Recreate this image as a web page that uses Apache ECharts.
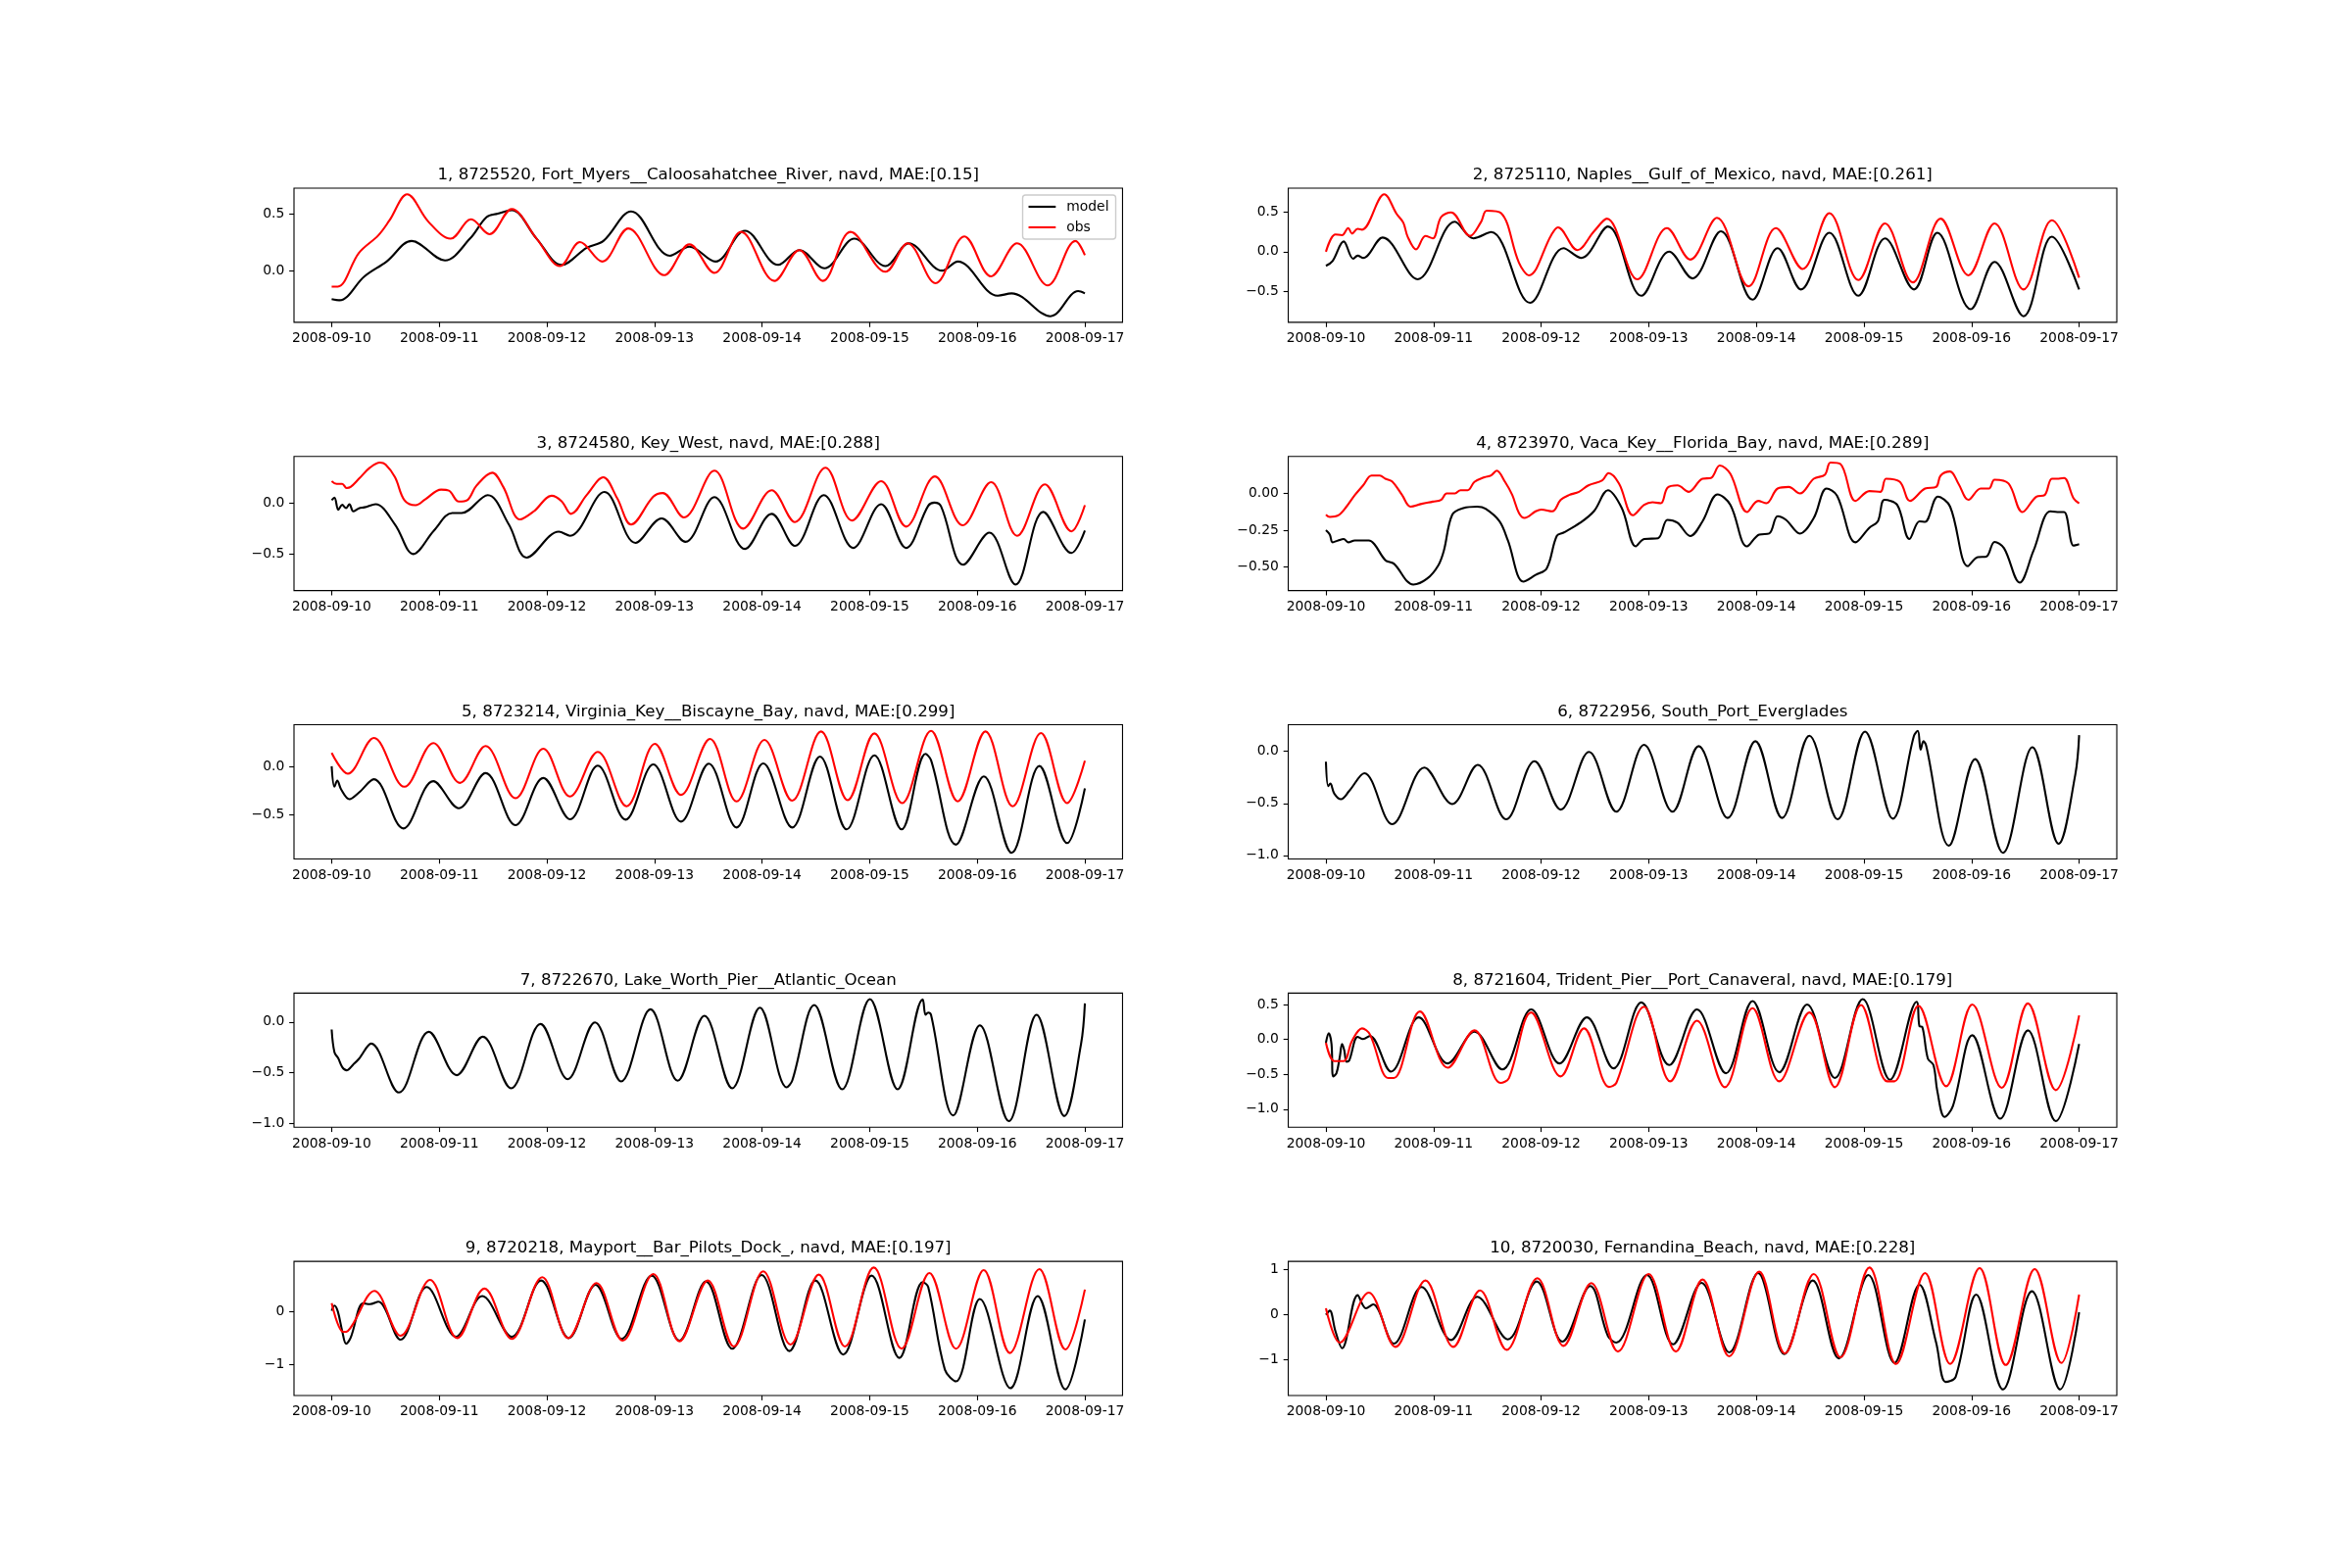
<!DOCTYPE html>
<html><head><meta charset="utf-8">
<script src="https://cdn.jsdelivr.net/npm/echarts@6/dist/echarts.min.js"></script>
<style>html,body{margin:0;padding:0;background:#fff}#chart{width:2400px;height:1600px}</style>
</head><body><div id="chart"></div>
<script>
// ---------- data (time in days since 2008-09-10 00:00) ----------
const xTickValues = [0, 1, 2, 3, 4, 5, 6, 7];
const xTickLabels = ['2008-09-10','2008-09-11','2008-09-12','2008-09-13','2008-09-14','2008-09-15','2008-09-16','2008-09-17'];

const titles = [
  '1, 8725520, Fort_Myers__Caloosahatchee_River, navd, MAE:[0.15]',
  '2, 8725110, Naples__Gulf_of_Mexico, navd, MAE:[0.261]',
  '3, 8724580, Key_West, navd, MAE:[0.288]',
  '4, 8723970, Vaca_Key__Florida_Bay, navd, MAE:[0.289]',
  '5, 8723214, Virginia_Key__Biscayne_Bay, navd, MAE:[0.299]',
  '6, 8722956, South_Port_Everglades',
  '7, 8722670, Lake_Worth_Pier__Atlantic_Ocean',
  '8, 8721604, Trident_Pier__Port_Canaveral, navd, MAE:[0.179]',
  '9, 8720218, Mayport__Bar_Pilots_Dock_, navd, MAE:[0.197]',
  '10, 8720030, Fernandina_Beach, navd, MAE:[0.228]'
];

const yTickValues = [
  [0, 0.5], [-0.5, 0, 0.5], [-0.5, 0], [-0.5, -0.25, 0], [-0.5, 0],
  [-1, -0.5, 0], [-1, -0.5, 0], [-1, -0.5, 0, 0.5], [-1, 0], [-1, 0, 1]
];
const yTickLabels = [
  ['0.0','0.5'], ['\u22120.5','0.0','0.5'], ['\u22120.5','0.0'], ['\u22120.50','\u22120.25','0.00'], ['\u22120.5','0.0'],
  ['\u22121.0','\u22120.5','0.0'], ['\u22121.0','\u22120.5','0.0'], ['\u22121.0','\u22120.5','0.0','0.5'], ['\u22121','0'], ['\u22121','0','1']
];

const model1 = [[0,-0.25],[0.072,-0.26],[0.305,-0.05],[0.511,0.08],[0.743,0.26],[1.053,0.09],[1.285,0.28],[1.44,0.47],[1.544,0.5],[1.673,0.53],[1.905,0.28],[2.137,0.05],[2.37,0.2],[2.525,0.26],[2.783,0.52],[3.144,0.13],[3.325,0.21],[3.567,0.08],[3.841,0.35],[4.15,0.05],[4.347,0.18],[4.579,0.02],[4.858,0.28],[5.147,0.04],[5.364,0.24],[5.674,0.0],[5.819,0.08],[6.19,-0.22],[6.319,-0.2],[6.68,-0.4],[6.938,-0.18],[7,-0.2]];
const obs1 = [[0,-0.14],[0.057,-0.14],[0.253,0.155],[0.434,0.31],[0.537,0.44],[0.702,0.67],[0.898,0.43],[1.105,0.28],[1.296,0.45],[1.466,0.32],[1.673,0.54],[1.905,0.28],[2.122,0.04],[2.308,0.25],[2.514,0.08],[2.757,0.37],[3.092,-0.04],[3.325,0.23],[3.557,-0.02],[3.805,0.34],[4.114,-0.09],[4.347,0.18],[4.564,-0.09],[4.822,0.34],[5.147,-0.01],[5.353,0.24],[5.611,-0.11],[5.88,0.3],[6.128,-0.05],[6.37,0.24],[6.654,-0.13],[6.912,0.26],[7,0.135]];

const model2 = [[0,-0.18],[0.062,-0.12],[0.165,0.13],[0.253,-0.09],[0.295,-0.05],[0.346,-0.08],[0.527,0.18],[0.853,-0.35],[1.199,0.38],[1.37,0.17],[1.535,0.25],[1.897,-0.65],[2.208,0.045],[2.373,-0.08],[2.621,0.32],[2.931,-0.56],[3.19,0.0],[3.407,-0.34],[3.671,0.26],[3.965,-0.61],[4.198,0.045],[4.415,-0.48],[4.679,0.24],[4.948,-0.56],[5.196,0.17],[5.465,-0.48],[5.682,0.24],[5.992,-0.73],[6.214,-0.13],[6.483,-0.82],[6.747,0.19],[7,-0.48]];
const obs2 = [[0,0.0],[0.088,0.22],[0.15,0.21],[0.207,0.3],[0.243,0.23],[0.295,0.29],[0.336,0.28],[0.543,0.73],[0.657,0.48],[0.719,0.37],[0.76,0.19],[0.838,0.03],[0.925,0.2],[0.993,0.17],[1.07,0.44],[1.163,0.5],[1.339,0.2],[1.442,0.38],[1.494,0.52],[1.628,0.49],[1.794,-0.14],[1.887,-0.3],[2.094,0.21],[2.156,0.31],[2.337,0.02],[2.492,0.26],[2.611,0.42],[2.895,-0.35],[3.169,0.3],[3.386,-0.1],[3.634,0.43],[3.929,-0.44],[4.182,0.3],[4.431,-0.22],[4.679,0.49],[4.948,-0.36],[5.196,0.36],[5.454,-0.39],[5.713,0.42],[5.971,-0.3],[6.214,0.36],[6.483,-0.48],[6.747,0.4],[7,-0.33]];

const model3 = [[0,0.03],[0.026,0.054],[0.062,-0.064],[0.098,-0.016],[0.134,-0.048],[0.165,-0.01],[0.201,-0.08],[0.253,-0.05],[0.305,-0.04],[0.408,-0.01],[0.589,-0.21],[0.759,-0.5],[0.95,-0.27],[1.12,-0.096],[1.208,-0.096],[1.451,0.08],[1.647,-0.21],[1.812,-0.535],[2.111,-0.28],[2.215,-0.32],[2.535,0.11],[2.824,-0.39],[3.066,-0.15],[3.288,-0.38],[3.557,0.06],[3.841,-0.45],[4.089,-0.105],[4.305,-0.42],[4.574,0.08],[4.847,-0.44],[5.106,-0.01],[5.338,-0.44],[5.544,-0.025],[5.601,0.006],[5.663,-0.03],[5.87,-0.605],[6.112,-0.29],[6.355,-0.8],[6.613,-0.086],[6.876,-0.49],[7,-0.27]];
const obs3 = [[0,0.217],[0.046,0.19],[0.098,0.19],[0.139,0.15],[0.176,0.16],[0.253,0.24],[0.356,0.35],[0.449,0.4],[0.501,0.38],[0.589,0.255],[0.676,0.03],[0.78,-0.02],[0.872,0.04],[1.017,0.134],[1.089,0.124],[1.182,0.016],[1.26,0.03],[1.347,0.175],[1.492,0.3],[1.595,0.16],[1.75,-0.16],[1.879,-0.08],[2.044,0.073],[2.137,0.02],[2.225,-0.105],[2.37,0.08],[2.524,0.255],[2.653,0.05],[2.783,-0.21],[2.989,0.064],[3.077,0.1],[3.273,-0.14],[3.557,0.32],[3.825,-0.25],[4.089,0.127],[4.305,-0.185],[4.589,0.35],[4.837,-0.17],[5.106,0.217],[5.338,-0.23],[5.606,0.264],[5.864,-0.217],[6.128,0.207],[6.37,-0.32],[6.628,0.185],[6.876,-0.277],[7,-0.02]];

const model4 = [[0,-0.25],[0.036,-0.28],[0.062,-0.333],[0.114,-0.32],[0.165,-0.31],[0.207,-0.333],[0.269,-0.32],[0.398,-0.32],[0.45,-0.345],[0.553,-0.455],[0.631,-0.478],[0.812,-0.62],[0.941,-0.58],[1.044,-0.49],[1.096,-0.39],[1.174,-0.145],[1.277,-0.1],[1.406,-0.09],[1.484,-0.105],[1.613,-0.19],[1.691,-0.32],[1.835,-0.6],[1.949,-0.555],[2.052,-0.51],[2.145,-0.29],[2.208,-0.267],[2.363,-0.2],[2.492,-0.12],[2.621,0.022],[2.75,-0.1],[2.88,-0.36],[2.958,-0.31],[3.087,-0.305],[3.174,-0.18],[3.267,-0.2],[3.386,-0.29],[3.5,-0.19],[3.64,-0.007],[3.759,-0.078],[3.914,-0.36],[4.027,-0.28],[4.12,-0.273],[4.198,-0.155],[4.276,-0.18],[4.405,-0.273],[4.534,-0.167],[4.653,0.033],[4.751,-0.016],[4.922,-0.333],[5.051,-0.233],[5.129,-0.19],[5.191,-0.044],[5.309,-0.078],[5.423,-0.31],[5.516,-0.19],[5.568,-0.193],[5.687,-0.022],[5.801,-0.09],[5.966,-0.495],[6.059,-0.433],[6.137,-0.43],[6.214,-0.33],[6.302,-0.373],[6.447,-0.607],[6.576,-0.39],[6.731,-0.122],[6.798,-0.127],[6.86,-0.127],[6.948,-0.355],[7,-0.345]];
const obs4 = [[0,-0.145],[0.036,-0.16],[0.114,-0.15],[0.191,-0.09],[0.269,-0.011],[0.346,0.055],[0.424,0.122],[0.501,0.122],[0.553,0.1],[0.615,0.082],[0.708,-0.011],[0.786,-0.09],[0.889,-0.071],[0.993,-0.056],[1.07,-0.044],[1.122,0.0],[1.199,0.0],[1.251,0.022],[1.318,0.022],[1.38,0.078],[1.473,0.11],[1.535,0.122],[1.587,0.155],[1.665,0.078],[1.732,-0.011],[1.794,-0.133],[1.846,-0.167],[1.949,-0.122],[2.001,-0.11],[2.104,-0.122],[2.182,-0.044],[2.259,-0.011],[2.352,0.011],[2.44,0.055],[2.569,0.089],[2.626,0.138],[2.724,0.067],[2.854,-0.149],[2.958,-0.078],[3.035,-0.06],[3.113,-0.067],[3.174,0.038],[3.267,0.055],[3.371,0.011],[3.5,0.1],[3.578,0.105],[3.66,0.19],[3.759,0.133],[3.914,-0.127],[4.017,-0.051],[4.094,-0.067],[4.198,0.033],[4.301,0.044],[4.405,0.0],[4.534,0.1],[4.637,0.127],[4.689,0.21],[4.782,0.2],[4.922,-0.051],[5.051,0.016],[5.154,0.011],[5.206,0.1],[5.335,0.078],[5.428,-0.051],[5.568,0.033],[5.671,0.044],[5.713,0.122],[5.801,0.149],[5.878,0.067],[5.971,-0.044],[6.085,0.033],[6.162,0.033],[6.214,0.093],[6.344,0.067],[6.473,-0.127],[6.602,-0.022],[6.68,-0.011],[6.747,0.1],[6.809,0.1],[6.86,0.105],[6.948,-0.033],[7,-0.067]];

const model5 = [[0,0.0],[0.026,-0.21],[0.052,-0.147],[0.088,-0.237],[0.165,-0.337],[0.253,-0.27],[0.392,-0.133],[0.666,-0.637],[0.945,-0.153],[1.182,-0.43],[1.43,-0.07],[1.709,-0.603],[1.967,-0.12],[2.215,-0.543],[2.473,0.007],[2.731,-0.547],[2.989,0.02],[3.247,-0.567],[3.505,0.027],[3.763,-0.627],[4.011,0.03],[4.28,-0.627],[4.538,0.1],[4.786,-0.647],[5.044,0.113],[5.297,-0.647],[5.519,0.127],[5.57,0.063],[5.802,-0.803],[6.061,-0.103],[6.319,-0.887],[6.577,0.003],[6.835,-0.787],[7,-0.227]];
const obs5 = [[0,0.137],[0.15,-0.077],[0.392,0.29],[0.676,-0.21],[0.945,0.237],[1.193,-0.17],[1.43,0.207],[1.709,-0.327],[1.967,0.18],[2.215,-0.31],[2.473,0.147],[2.741,-0.41],[3.004,0.23],[3.247,-0.293],[3.516,0.28],[3.763,-0.36],[4.022,0.27],[4.28,-0.353],[4.548,0.357],[4.796,-0.347],[5.044,0.337],[5.302,-0.377],[5.57,0.363],[5.818,-0.36],[6.076,0.357],[6.329,-0.41],[6.592,0.34],[6.835,-0.377],[7,0.057]];

const model6 = [[0,-0.1],[0.021,-0.334],[0.041,-0.31],[0.078,-0.406],[0.14,-0.46],[0.217,-0.38],[0.357,-0.21],[0.615,-0.7],[0.915,-0.156],[1.174,-0.506],[1.411,-0.13],[1.675,-0.653],[1.939,-0.094],[2.182,-0.56],[2.445,-0.006],[2.699,-0.58],[2.957,0.063],[3.221,-0.58],[3.464,0.05],[3.733,-0.64],[3.991,0.097],[4.239,-0.64],[4.493,0.15],[4.756,-0.653],[5.01,0.19],[5.268,-0.647],[5.465,0.15],[5.501,0.197],[5.527,0.016],[5.553,0.097],[5.578,0.056],[5.79,-0.906],[6.033,-0.075],[6.292,-0.975],[6.566,0.04],[6.809,-0.888],[6.964,-0.225],[7,0.156]];

const model7 = [[0,-0.074],[0.026,-0.3],[0.062,-0.36],[0.098,-0.445],[0.139,-0.477],[0.201,-0.42],[0.253,-0.365],[0.367,-0.213],[0.625,-0.697],[0.903,-0.097],[1.162,-0.526],[1.404,-0.145],[1.667,-0.655],[1.941,-0.019],[2.194,-0.565],[2.447,-0.003],[2.69,-0.587],[2.963,0.126],[3.216,-0.58],[3.464,0.061],[3.722,-0.655],[3.98,0.142],[4.228,-0.645],[4.28,-0.58],[4.486,0.168],[4.744,-0.665],[5.002,0.226],[5.26,-0.665],[5.493,0.223],[5.519,0.071],[5.544,0.094],[5.57,0.071],[5.777,-0.923],[6.024,-0.032],[6.293,-0.98],[6.551,0.071],[6.809,-0.929],[6.964,-0.219],[7,0.184]];

const model8 = [[0,-0.047],[0.026,0.088],[0.052,-0.065],[0.067,-0.53],[0.098,-0.484],[0.129,-0.25],[0.15,-0.065],[0.171,-0.158],[0.191,-0.32],[0.217,-0.3],[0.295,0.037],[0.346,0.005],[0.408,0.05],[0.605,-0.46],[0.863,0.316],[1.132,-0.344],[1.38,0.11],[1.639,-0.43],[1.908,0.43],[2.171,-0.344],[2.425,0.316],[2.673,-0.414],[2.931,0.53],[3.19,-0.367],[3.448,0.43],[3.717,-0.484],[3.965,0.55],[4.213,-0.47],[4.472,0.5],[4.73,-0.553],[4.989,0.577],[5.242,-0.577],[5.49,0.54],[5.516,0.19],[5.542,0.18],[5.594,-0.274],[5.646,-0.367],[5.682,-0.74],[5.749,-1.11],[5.826,-0.958],[6.007,0.06],[6.266,-1.135],[6.524,0.13],[6.783,-1.17],[7,-0.065]];
const obs8 = [[0,-0.047],[0.078,-0.31],[0.165,-0.31],[0.243,-0.019],[0.336,0.158],[0.408,0.074],[0.579,-0.553],[0.631,-0.553],[0.874,0.4],[1.132,-0.405],[1.38,0.13],[1.623,-0.623],[1.701,-0.553],[1.908,0.386],[2.182,-0.53],[2.399,0.158],[2.631,-0.68],[2.699,-0.623],[2.957,0.47],[3.2,-0.6],[3.448,0.27],[3.707,-0.684],[3.965,0.447],[4.213,-0.6],[4.493,0.386],[4.73,-0.684],[4.973,0.493],[5.216,-0.6],[5.284,-0.6],[5.506,0.484],[5.764,-0.67],[6.007,0.5],[6.281,-0.693],[6.524,0.516],[6.783,-0.726],[7,0.344]];

const model9 = [[0,0.012],[0.026,0.11],[0.057,0.0],[0.098,-0.37],[0.134,-0.61],[0.176,-0.5],[0.294,0.153],[0.356,0.135],[0.434,0.184],[0.64,-0.534],[0.883,0.46],[1.156,-0.48],[1.399,0.288],[1.673,-0.48],[1.946,0.583],[2.204,-0.503],[2.452,0.503],[2.695,-0.52],[2.974,0.675],[3.232,-0.552],[3.479,0.564],[3.722,-0.705],[3.996,0.687],[4.254,-0.748],[4.496,0.583],[4.754,-0.816],[5.018,0.675],[5.276,-0.877],[5.493,0.552],[5.544,0.46],[5.699,-1.1],[5.802,-1.32],[6.024,0.233],[6.308,-1.448],[6.561,0.288],[6.819,-1.472],[7,-0.153]];
const obs9 = [[0,0.153],[0.108,-0.387],[0.15,-0.37],[0.398,0.387],[0.64,-0.46],[0.914,0.595],[1.167,-0.503],[1.42,0.43],[1.673,-0.52],[1.957,0.644],[2.199,-0.503],[2.462,0.534],[2.705,-0.552],[2.989,0.705],[3.232,-0.564],[3.495,0.583],[3.738,-0.663],[4.011,0.755],[4.264,-0.626],[4.527,0.693],[4.77,-0.663],[5.038,0.828],[5.297,-0.705],[5.555,0.724],[5.802,-0.705],[6.06,0.779],[6.303,-0.785],[6.577,0.798],[6.819,-0.718],[7,0.411]];

const model10 = [[0,0.0],[0.036,0.094],[0.088,-0.36],[0.15,-0.74],[0.295,0.435],[0.372,0.145],[0.439,0.232],[0.631,-0.638],[0.889,0.616],[1.163,-0.558],[1.406,0.399],[1.691,-0.543],[1.959,0.739],[2.197,-0.594],[2.456,0.638],[2.621,-0.47],[2.699,-0.616],[2.983,0.884],[3.226,-0.652],[3.49,0.71],[3.748,-0.833],[4.017,0.928],[4.26,-0.87],[4.524,0.761],[4.767,-0.964],[5.041,0.884],[5.284,-1.065],[5.516,0.667],[5.671,-0.616],[5.759,-1.486],[5.852,-1.377],[6.044,0.449],[6.292,-1.652],[6.561,0.522],[6.824,-1.652],[7,0.058]];
const obs10 = [[0,0.145],[0.129,-0.616],[0.398,0.493],[0.646,-0.71],[0.925,0.761],[1.184,-0.71],[1.432,0.543],[1.68,-0.775],[1.965,0.812],[2.208,-0.688],[2.466,0.703],[2.714,-0.812],[2.999,0.906],[3.252,-0.812],[3.5,0.783],[3.748,-0.92],[4.027,0.957],[4.265,-0.855],[4.534,0.906],[4.782,-0.942],[5.051,1.05],[5.299,-1.087],[5.568,0.928],[5.801,-1.087],[6.075,1.036],[6.318,-1.109],[6.587,1.014],[6.835,-1.065],[7,0.449]];

const panelModel = [model1, model2, model3, model4, model5, model6, model7, model8, model9, model10];
const panelObs = [obs1, obs2, obs3, obs4, obs5, null, null, obs8, obs9, obs10];

// ---------- layout (matplotlib default subplot params, 5x2, hspace=1.0) ----------
const FIG_W = 2400, FIG_H = 1600;
const L = 0.125 * FIG_W, R = 0.9 * FIG_W, T = (1 - 0.88) * FIG_H, B = (1 - 0.11) * FIG_H;
const axW = (R - L) / (2 + 0.2);
const axH = (B - T) / (5 + 4 * 1.0);
const PT = 100 / 72;
const FONT = 'DejaVu Sans';
const tickFs = 10 * PT, titleFs = 12 * PT, tickLen = 3.5 * PT, tickPad = 3.5 * PT;

const grids = [], xAxes = [], yAxes = [], series = [], titleOpts = [];
for (let i = 0; i < 10; i++) {
  const r = Math.floor(i / 2), c = i % 2;
  const left = L + c * axW * 1.2;
  const top = T + r * axH * 2;
  grids.push({ left: left, top: top, width: axW, height: axH, show: true,
    borderColor: '#000', borderWidth: 0.8 * PT, backgroundColor: 'rgba(0,0,0,0)',
    containLabel: false, outerBoundsMode: 'none' });
  titleOpts.push({ text: titles[i], left: left + axW / 2, top: top - 6 * PT - 13.2, textAlign: 'center',
    padding: 0, textStyle: { fontSize: titleFs, fontWeight: 'normal', color: '#000', fontFamily: FONT } });
  xAxes.push({ type: 'value', gridIndex: i, min: -0.35, max: 7.35, position: 'bottom',
    axisLine: { show: false, onZero: false }, splitLine: { show: false },
    axisTick: { show: true, inside: false, length: tickLen, customValues: xTickValues,
      lineStyle: { color: '#000', width: 0.8 * PT } },
    axisLabel: { show: true, customValues: xTickValues, margin: tickLen + tickPad, color: '#000',
      fontSize: tickFs, fontFamily: FONT,
      formatter: function (v) { const k = xTickValues.findIndex(t => Math.abs(t - v) < 1e-6); return k >= 0 ? xTickLabels[k] : ''; } } });
  const yv = yTickValues[i], yl = yTickLabels[i];
  yAxes.push({ type: 'value', gridIndex: i, position: 'left',
    min: function (e) { return e.min - 0.05 * (e.max - e.min); },
    max: function (e) { return e.max + 0.05 * (e.max - e.min); },
    axisLine: { show: false, onZero: false }, splitLine: { show: false },
    axisTick: { show: true, inside: false, length: tickLen, customValues: yv,
      lineStyle: { color: '#000', width: 0.8 * PT } },
    axisLabel: { show: true, customValues: yv, margin: tickLen + tickPad, color: '#000',
      fontSize: tickFs, fontFamily: FONT,
      formatter: function (v) { const k = yv.findIndex(t => Math.abs(t - v) < 1e-6); return k >= 0 ? yl[k] : ''; } } });
  series.push({ type: 'line', name: 'model', xAxisIndex: i, yAxisIndex: i, data: panelModel[i],
    symbol: 'none', showSymbol: false, smooth: 0.36, clip: true,
    lineStyle: { color: '#000', width: 1.5 * PT }, itemStyle: { color: '#000' } });
  if (panelObs[i]) {
    series.push({ type: 'line', name: 'obs', xAxisIndex: i, yAxisIndex: i, data: panelObs[i],
      symbol: 'none', showSymbol: false, smooth: 0.36, clip: true,
      lineStyle: { color: '#ff0000', width: 1.5 * PT }, itemStyle: { color: '#ff0000' } });
  }
}

const legendPad = 0.5 * tickFs;
const option = {
  backgroundColor: '#fff',
  animation: false,
  title: titleOpts,
  grid: grids,
  xAxis: xAxes,
  yAxis: yAxes,
  series: series,
  legend: {
    data: ['model', 'obs'],
    orient: 'vertical',
    right: FIG_W - (L + axW - legendPad),
    top: T + legendPad,
    icon: 'rect', itemWidth: 2 * tickFs, itemHeight: 1.5 * PT, itemGap: 7,
    padding: [5, 7, 5, 6],
    backgroundColor: 'rgba(255,255,255,0.8)', borderColor: '#cccccc', borderWidth: 1.4, borderRadius: 3,
    selectedMode: false,
    textStyle: { fontSize: tickFs, color: '#000', fontFamily: FONT, padding: [0, 0, 0, 6] }
  }
};

const chart = echarts.init(document.getElementById('chart'), null, { renderer: 'canvas', width: FIG_W, height: FIG_H });
chart.setOption(option);
</script>
</body></html>
